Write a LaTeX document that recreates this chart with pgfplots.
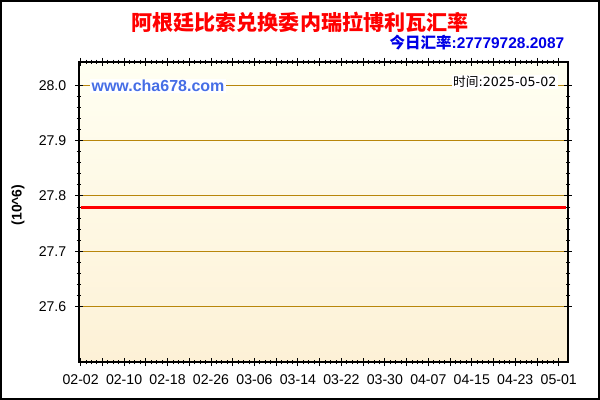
\documentclass[border=0pt]{standalone}
\usepackage{pgfplots}
\pgfplotsset{compat=1.18}
\usepackage{fontspec}
\setmainfont{Liberation Sans}
\newfontfamily\cjk{Noto Sans CJK SC}
\newfontfamily\dejavu{DejaVu Sans}
\definecolor{gridc}{RGB}{184,134,11}
\definecolor{bgtop}{RGB}{255,255,242}
\definecolor{bgbot}{RGB}{253,241,214}
\definecolor{webblue}{RGB}{70,110,230}
\definecolor{ratec}{RGB}{0,0,230}
\begin{document}
\begin{tikzpicture}
\useasboundingbox (0,0) rectangle (450pt,300pt);
\fill[white] (0,0) rectangle (450pt,300pt);
\begin{axis}[
  at={(59.25pt,28.5pt)}, anchor=south west,
  width=366.75pt, height=225pt, scale only axis,
  xmin=-0.3, xmax=89.7, ymin=27.5, ymax=28.042,
  axis background/.style={top color=bgtop, bottom color=bgbot},
  axis line style={black, line width=0.8pt},
  xtick={0,4,...,88},
  xticklabels={02-02,,02-10,,02-18,,02-26,,03-06,,03-14,,03-22,,03-30,,04-07,,04-15,,04-23,,05-01},
  minor x tick num=3,
  ytick={27.6,27.7,27.8,27.9,28.0},
  minor y tick num=4,
  yticklabel style={/pgf/number format/fixed,/pgf/number format/precision=1,/pgf/number format/fixed zerofill},
  /pgf/number format/assume math mode=true,
  tick label style={font=\fontsize{10.6}{12}\selectfont, black},
  tick align=center,
  major tick length=6pt, minor tick length=3.5pt,
  tick style={black, line width=0.7pt},
  ymajorgrids, major grid style={gridc, line width=0.75pt},
  xticklabel style={yshift=-3pt},
  yticklabel style={xshift=-3pt},
]
\addplot[red, line width=2.25pt] coordinates {
(0,27.7797) (8,27.7797) (16,27.7797) (24,27.7797) (32,27.7797) (40,27.7797)
(48,27.7797) (56,27.7797) (64,27.7797) (72,27.7797) (80,27.7797) (89.4,27.7797)};
\end{axis}
\draw[black, line width=1.5pt] (0.75pt,0.75pt) rectangle (449.25pt,299.25pt);
\node[red, font=\cjk\bfseries\fontsize{15.8}{18}\selectfont] at (225pt,283.5pt) {阿根廷比索兑换委内瑞拉博利瓦汇率};
\node[ratec, anchor=east, inner sep=0pt, font=\bfseries\fontsize{11.6}{13}\selectfont] at (423.4pt,267.75pt) {{\cjk 今日汇率}:27779728.2087};
\node[webblue, fill=white, anchor=west, inner sep=1pt, font=\bfseries\fontsize{12}{14}\selectfont] at (67.5pt,235.5pt) {www.cha678.com};
\node[black, fill=white, anchor=east, inner sep=1pt, font=\fontsize{9.5}{11}\selectfont] at (418.5pt,238.5pt) {{\cjk 时间}{\dejavu :2025-05-02}};
\node[black, rotate=90, font=\bfseries\fontsize{10.5}{12}\selectfont] at (13.5pt,146.25pt) {(10\textasciicircum 6)};
\end{tikzpicture}
\end{document}
